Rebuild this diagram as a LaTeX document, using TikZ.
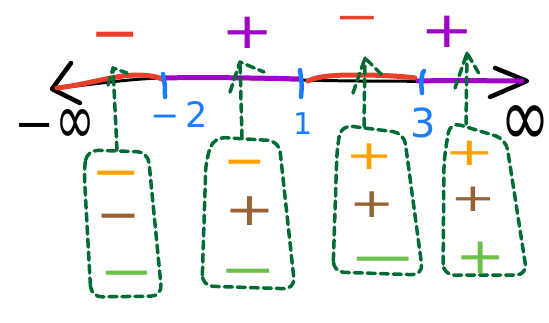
\documentclass[tikz,border=0pt]{standalone}
\usepackage{fontspec}
\usepackage{graphicx}
\setmainfont{DejaVu Sans}
\definecolor{penred}{HTML}{E8402A}
\definecolor{penpurple}{HTML}{A000C8}
\definecolor{penblue}{HTML}{1A7CFF}
\definecolor{penorange}{HTML}{FFA000}
\definecolor{penbrown}{HTML}{9A6232}
\definecolor{penlgreen}{HTML}{6CC04A}
\definecolor{pendgreen}{HTML}{006B33}
\newcommand\fsz[1]{\fontsize{#1}{#1}\selectfont}
% sign nodes: x, y (centre of the glyph), size, horizontal stretch, colour, name, text
\newcommand\sgn[7]{\node[sign,text=#5,font=\bfseries\fsz{#3}] (#6) at (#1,{#2+0.316*#3}) {\scalebox{#4}[1]{#7}};}
\newcommand\sgp[7]{\node[sign,text=#5,font=\fsz{#3}] (#6) at (#1,{#2+0.316*#3}) {\scalebox{#4}[1]{#7}};}
\begin{document}
\begin{tikzpicture}[x=1pt,y=-1pt,line cap=round,line join=round,
  sign/.style={inner sep=0pt,anchor=base},
  num/.style={inner sep=0pt,anchor=base,text=penblue},
  axisline/.style={draw=black,line width=3pt},
  chevron/.style={draw=black,line width=4.5pt},
  redseg/.style={draw=penred,line width=5pt},
  purpleseg/.style={draw=penpurple,line width=5pt},
  tick/.style={draw=penblue,line width=4.5pt},
  dbox/.style={draw=pendgreen,line width=3.5pt,dash pattern=on 8pt off 5pt,rounded corners=11pt},
  darrow/.style={draw=pendgreen,line width=3.5pt,dash pattern=on 8pt off 5pt}]
\useasboundingbox (0,0) rectangle (549,322);

% number line
\coordinate (ninf) at (52,89);
\coordinate (pinf) at (527,81);
\draw[axisline] (ninf) .. controls (100,83) and (140,78) .. (165,78)
  .. controls (230,78) and (270,79) .. (300,80)
  .. controls (380,82) and (450,81) .. (pinf);
\draw[chevron] (71,63) -- (ninf) -- (80,103);
\draw[chevron] (495,68) -- (pinf) -- (490,97);

% sign intervals on the line
\draw[redseg] (57,88) .. controls (90,84) and (110,76) .. (135,75) .. controls (150,75) and (158,77) .. (164,80);
\draw[purpleseg] (165,78) .. controls (200,77) and (260,78) .. (300,79);
\draw[redseg] (308,81) .. controls (318,76) and (335,75) .. (355,75) .. controls (380,75) and (400,76) .. (415,78);
\draw[purpleseg] (418,81) .. controls (460,80) and (490,81) .. (522,81);

% roots
\draw[tick] (163,74) .. controls (165,85) .. (165,97);
\draw[tick] (300,70) .. controls (302,85) .. (301,97);
\draw[tick] (424,71) .. controls (421,74) and (421,85) .. (422,93);

% labels on the line
\node[num,font=\fsz{35}] (lm2) at (179,127) {−\kern5pt 2};
\node[num,font=\fsz{30}] (l1) at (303,134) {1};
\node[num,font=\fsz{40}] (l3) at (423,137) {3};
\node[inner sep=0pt,anchor=base,font=\fsz{48}] (minf) at (55,140) {−\raisebox{-4pt}{\scalebox{1}[1.5]{∞}}};
\node[inner sep=0pt,anchor=base,font=\fsz{60}] (pinftxt) at (525,146) {\scalebox{1}[1.4]{∞}};

% resulting signs above the line
\sgn{115}{35}{44}{1.34}{penred}{s1}{−}
\sgp{248}{33}{50}{1.25}{penpurple}{s2}{+}
\sgn{357}{18}{30}{1.8}{penred}{s3}{−}
\sgp{447}{32}{50}{1.28}{penpurple}{s4}{+}

% factor sign tables
\draw[dbox] (91,297) -- (84,170) -- (87,150) -- (148,152) -- (162,296) -- cycle;
\draw[dbox] (202,286) -- (206,160) -- (214,137) -- (279,141) -- (295,289) -- cycle;
\draw[dbox] (333,272) -- (337,150) -- (341,125) -- (404,133) -- (423,275) -- cycle;
\draw[dbox] (443,275) -- (444,160) -- (450,122) -- (506,139) -- (527,275) -- cycle;

\sgn{116}{173}{36}{1.64}{penorange}{b1o}{−}
\sgn{119}{216}{36}{1.46}{penbrown}{b1b}{−}
\sgn{127}{273}{36}{1.82}{penlgreen}{b1g}{−}

\sgn{245}{162}{36}{1.41}{penorange}{b2o}{−}
\sgp{250}{211}{46}{1.32}{penbrown}{b2b}{+}
\sgn{248}{271}{36}{1.9}{penlgreen}{b2g}{−}

\sgp{370}{157}{41}{1.4}{penorange}{b3o}{+}
\sgp{372}{205}{41}{1.32}{penbrown}{b3b}{+}
\sgn{383}{259}{36}{2.3}{penlgreen}{b3g}{−}

\sgp{470}{153}{39}{1.55}{penorange}{b4o}{+}
\sgp{473}{199}{39}{1.4}{penbrown}{b4b}{+}
\sgp{481}{258}{50}{1.2}{penlgreen}{b4g}{+}

% dashed arrows from each table up to its interval
\coordinate (a1) at (117,150); \coordinate (t1) at (113,68);
\coordinate (a2) at (242,138); \coordinate (t2) at (240,62);
\coordinate (a3) at (364,126); \coordinate (t3) at (365,58);
\coordinate (a4) at (466,124); \coordinate (t4) at (467,53);
\draw[darrow] (a1) -- (t1); \draw[darrow] (108,85) -- (t1) -- (127,73);
\draw[darrow] (a2) -- (t2); \draw[darrow] (230,92) -- (t2) -- (264,72);
\draw[darrow] (a3) -- (t3); \draw[darrow] (353,93) -- (t3) -- (382,75);
\draw[darrow] (a4) -- (t4); \draw[darrow] (455,88) -- (t4) -- (481,77);
\end{tikzpicture}
\end{document}
